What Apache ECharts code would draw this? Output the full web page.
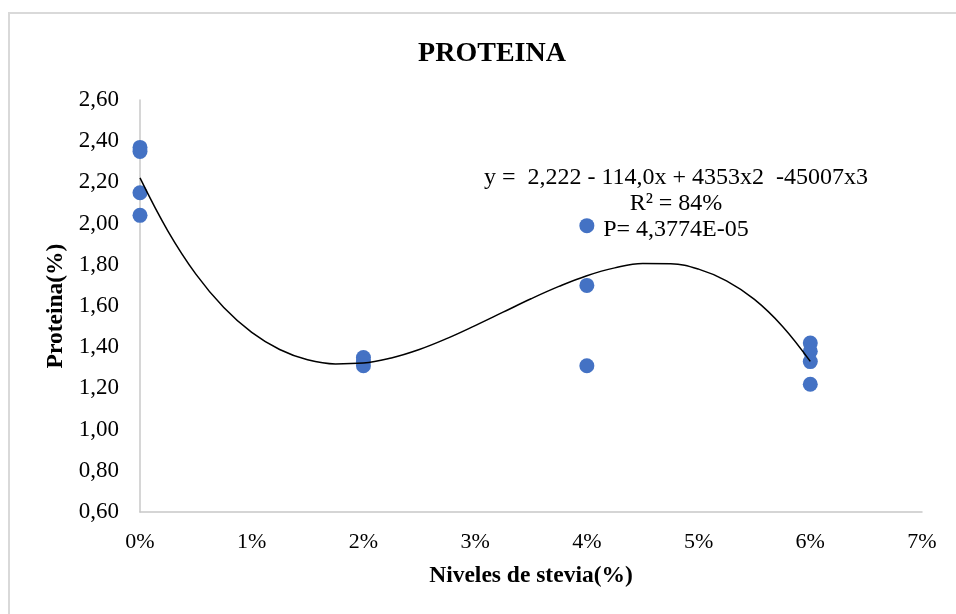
<!DOCTYPE html>
<html>
<head>
<meta charset="utf-8">
<script src="https://cdn.jsdelivr.net/npm/echarts@6/dist/echarts.min.js"></script>
<style>html,body{margin:0;padding:0;background:#fff}#c{width:956px;height:614px}</style>
</head>
<body>
<div id="c"></div>
<script>
// Observed data (x in % of stevia, y = Proteina %)
var obsX = [0, 0, 0, 0, 2, 2, 2, 4, 4, 4, 6, 6, 6, 6];
var obsY = [2.37, 2.35, 2.15, 2.04, 1.35, 1.33, 1.31, 1.99, 1.70, 1.31, 1.42, 1.38, 1.33, 1.22];
// Trend line
var trendX = [0, 0.25, 0.5, 0.75, 1, 1.25, 1.5, 1.75, 2, 2.25, 2.5, 2.75, 3, 3.25, 3.5, 3.75, 4, 4.25, 4.5, 4.75, 5, 5.25, 5.5, 5.75, 6];
var trendY = [2.222, 1.964, 1.755, 1.593, 1.472, 1.389, 1.339, 1.319, 1.323, 1.348, 1.389, 1.443, 1.505, 1.570, 1.635, 1.695, 1.747, 1.785, 1.806, 1.805, 1.779, 1.722, 1.632, 1.502, 1.331];
var annotationLines = ['y =  2,222 - 114,0x + 4353x2  -45007x3', 'R\u00b2 = 84%', 'P= 4,3774E-05'];
var titleText = 'PROTEINA';
var xName = 'Niveles de stevia(%)';
var yName = 'Proteina(%)';

var FONT = '"Liberation Serif", "DejaVu Serif", serif';
var chart = echarts.init(document.getElementById('c'), null, {renderer: 'canvas'});
var option = {
  backgroundColor: '#fff',
  animation: false,
  title: {
    text: titleText, left: 487, top: 35, textAlign: 'center',
    textStyle: {fontFamily: FONT, fontSize: 28, fontWeight: 'bold', color: '#000'}
  },
  grid: {left: 140, right: 34, top: 100, bottom: 102, containLabel: false},
  xAxis: {
    type: 'value', min: 0, max: 7, interval: 1,
    name: xName, nameLocation: 'middle', nameGap: 52,
    nameTextStyle: {fontFamily: FONT, fontSize: 23.5, fontWeight: 'bold', color: '#000'},
    axisLine: {show: true, lineStyle: {color: '#c8c8c8', width: 1.5}},
    axisTick: {show: false},
    splitLine: {show: false},
    axisLabel: {fontFamily: FONT, fontSize: 22, color: '#000', margin: 19,
      formatter: function (v) { return v + '%'; }}
  },
  yAxis: {
    type: 'value', min: 0.6, max: 2.6, interval: 0.2,
    name: yName, nameLocation: 'middle', nameGap: 71,
    nameTextStyle: {fontFamily: FONT, fontSize: 23.5, fontWeight: 'bold', color: '#000'},
    axisLine: {show: true, lineStyle: {color: '#c8c8c8', width: 1.5}},
    axisTick: {show: false},
    splitLine: {show: false},
    axisLabel: {fontFamily: FONT, fontSize: 23, color: '#000', margin: 21,
      formatter: function (v) { return v.toFixed(2).replace('.', ','); }}
  },
  series: [
    {
      type: 'line', smooth: 0.4, showSymbol: false, symbol: 'none',
      lineStyle: {color: '#000', width: 1.5}, z: 3,
      data: trendX.map(function (x, i) { return [x, trendY[i]]; })
    },
    {
      type: 'scatter', symbol: 'circle', symbolSize: 15,
      itemStyle: {color: '#4472C4', opacity: 1}, z: 2,
      data: obsX.map(function (x, i) { return [x, obsY[i]]; })
    }
  ],
  graphic: [
    {type: 'rect', shape: {x: 9, y: 13, width: 980, height: 640}, style: {fill: 'none', stroke: '#d9d9d9', lineWidth: 2}, z: -10, silent: true},
    {type: 'text', x: 676, y: 165, z: 10, style: {
      text: annotationLines.join('\n'), font: '24px ' + FONT, fill: '#000',
      textAlign: 'center', textVerticalAlign: 'top', lineHeight: 26
    }}
  ]
};
chart.setOption(option);
</script>
</body>
</html>
